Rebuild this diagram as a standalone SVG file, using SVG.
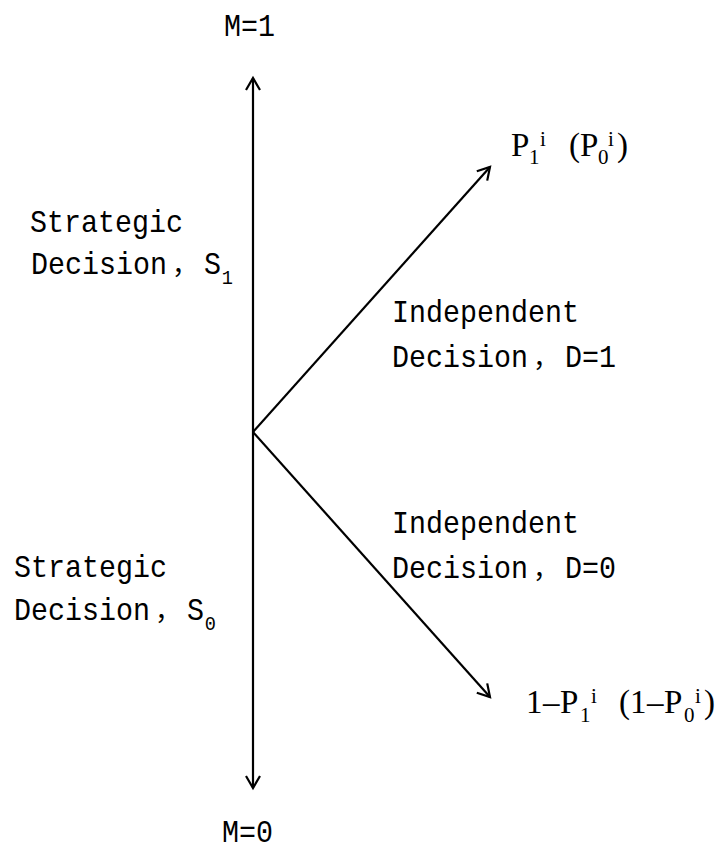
<svg xmlns="http://www.w3.org/2000/svg" width="721" height="852" viewBox="0 0 721 852">
<style>
.t{font-family:"Liberation Mono","Noto Sans CJK SC",monospace;font-size:32px;fill:#000}
.c{font-family:"Noto Sans CJK SC","Liberation Mono",sans-serif;font-size:26px;fill:#000}
.s{font-family:"Liberation Serif","Noto Sans CJK SC",serif;fill:#000}
.big{font-size:33px}
.sm{font-size:21px}
.ln{stroke:#000;stroke-width:2.2;fill:none}
</style>
<defs>
<marker id="ah" markerUnits="userSpaceOnUse" markerWidth="30" markerHeight="30" viewBox="-15 -15 30 30" refX="0" refY="0" orient="auto">
<path d="M-12,-7 L0,0 L-12,7" fill="none" stroke="#000" stroke-width="2.2" stroke-linejoin="miter"/>
</marker>
</defs>
<rect width="721" height="852" fill="#fff"/>
<g id="connectors">
<line class="ln" x1="253" y1="432" x2="253" y2="78" marker-end="url(#ah)"/>
<line class="ln" x1="253" y1="432" x2="253" y2="788" marker-end="url(#ah)"/>
<line class="ln" x1="253" y1="432" x2="490" y2="167" marker-end="url(#ah)"/>
<line class="ln" x1="253" y1="432" x2="490" y2="697" marker-end="url(#ah)"/>
</g>
<g id="m1"><text class="t" transform="translate(224,36) scale(0.8854,1)">M=1</text></g>
<g id="m0"><text class="t" transform="translate(222,842) scale(0.8854,1)">M=0</text></g>
<g id="s1">
<text class="t" transform="translate(30,232) scale(0.8854,1)">Strategic</text>
<text class="t" transform="translate(31,274) scale(0.8854,1)">Decision</text>
<text class="c" x="172" y="274">，</text>
<text class="t" transform="translate(204,274) scale(0.8854,1)">S<tspan class="sm" x="20" y="10">1</tspan></text>
</g>
<g id="s0">
<text class="t" transform="translate(14,577) scale(0.8854,1)">Strategic</text>
<text class="t" transform="translate(14,620) scale(0.8854,1)">Decision</text>
<text class="c" x="155" y="620">，</text>
<text class="t" transform="translate(187,620) scale(0.8854,1)">S<tspan class="sm" x="20" y="10">0</tspan></text>
</g>
<g id="d1">
<text class="t" transform="translate(392,322) scale(0.8854,1)">Independent</text>
<text class="t" transform="translate(392,367) scale(0.8854,1)">Decision</text>
<text class="c" x="533" y="367">，</text>
<text class="t" transform="translate(565,367) scale(0.8854,1)">D=1</text>
</g>
<g id="d0">
<text class="t" transform="translate(392,533) scale(0.8854,1)">Independent</text>
<text class="t" transform="translate(392,578) scale(0.8854,1)">Decision</text>
<text class="c" x="533" y="578">，</text>
<text class="t" transform="translate(565,578) scale(0.8854,1)">D=0</text>
</g>
<g id="p1">
<text class="s big" y="156"><tspan x="511">P</tspan><tspan class="sm" x="529" y="164">1</tspan><tspan class="sm" x="540" y="146">i</tspan><tspan x="569" y="156">(</tspan><tspan x="580">P</tspan><tspan class="sm" x="598" y="164">0</tspan><tspan class="sm" x="608" y="146">i</tspan><tspan x="617" y="156">)</tspan></text>
</g>
<g id="p0">
<text class="s big" y="713"><tspan x="526">1</tspan><tspan x="543">–</tspan><tspan x="560">P</tspan><tspan class="sm" x="580" y="722">1</tspan><tspan class="sm" x="591" y="703">i</tspan><tspan x="619" y="713">(</tspan><tspan x="630">1</tspan><tspan x="647">–</tspan><tspan x="664">P</tspan><tspan class="sm" x="684" y="722">0</tspan><tspan class="sm" x="695" y="703">i</tspan><tspan x="704" y="713">)</tspan></text>
</g>
</svg>
